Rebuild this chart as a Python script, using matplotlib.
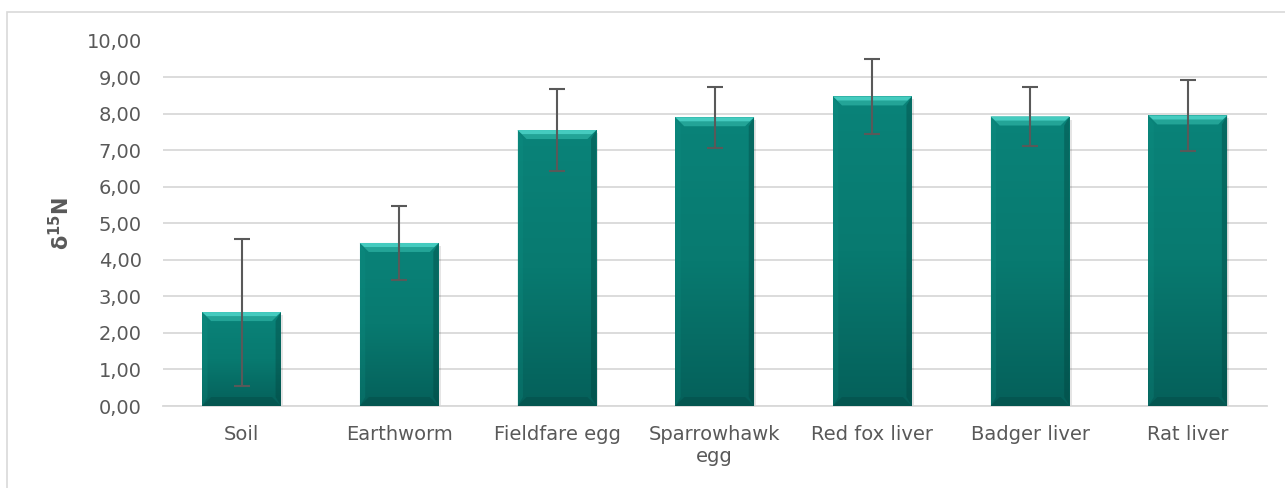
import matplotlib

matplotlib.use("Agg")

import matplotlib.pyplot as plt
import numpy as np
from matplotlib.patches import Rectangle, Polygon
from matplotlib.ticker import FuncFormatter

# данные (оценка по рисунку)
categories = ["Soil", "Earthworm", "Fieldfare egg", "Sparrowhawk\negg",
              "Red fox liver", "Badger liver", "Rat liver"]
means = [2.57, 4.46, 7.55, 7.90, 8.47, 7.92, 7.95]
errors = [2.01, 1.02, 1.12, 0.83, 1.02, 0.81, 0.96]
y_ticks = np.arange(0, 10.01, 1.0)

TEXT = "#595959"
GRID = "#d9d9d9"

plt.rcParams["font.family"] = ["DejaVu Sans"]

fig = plt.figure(figsize=(12.85, 4.88), dpi=100)
fig.patches.append(Rectangle((7 / 1285, -0.1), 1.2, (476 / 488) + 0.1,
                             transform=fig.transFigure, fill=False,
                             edgecolor=GRID, linewidth=1.2))
ax = fig.add_axes([162.7 / 1285, 82 / 488, 1104 / 1285, 365.5 / 488])

x = np.arange(len(categories))
width = 0.5
ax.set_xlim(-0.5, len(categories) - 0.5)
ax.set_ylim(0, 10)

# размер фаски в единицах данных (~9 px)
fig.canvas.draw()
bb = ax.get_window_extent()
px_x = (len(categories)) / bb.width
px_y = 10.0 / bb.height
bev_x = 9 * px_x
bev_y = 9 * px_y

grad = np.linspace(0, 1, 256).reshape(-1, 1)
cmap = matplotlib.colors.LinearSegmentedColormap.from_list(
    "teal", ["#05605a", "#087a70", "#0a8379"])

for xi, m in zip(x, means):
    x0, x1 = xi - width / 2, xi + width / 2
    # тень
    ax.add_patch(Rectangle((x0 + 2 * px_x, -3 * px_y), width, m,
                           facecolor="#000000", alpha=0.10, linewidth=0,
                           zorder=2))
    bar = Rectangle((x0, 0), width, m, facecolor="#087a70", linewidth=0,
                    zorder=3)
    ax.add_patch(bar)
    im = ax.imshow(grad, extent=[x0, x1, 0, m], origin="lower", cmap=cmap,
                   aspect="auto", zorder=3)
    im.set_clip_path(bar)
    # верхняя фаска
    ax.add_patch(Polygon([[x0, m], [x1, m], [x1 - bev_x, m - bev_y],
                          [x0 + bev_x, m - bev_y]],
                         facecolor="#23a497", linewidth=0, zorder=4))
    ax.add_patch(Polygon([[x0, m], [x1, m], [x1 - bev_x * 0.5, m - bev_y * 0.45],
                          [x0 + bev_x * 0.5, m - bev_y * 0.45]],
                         facecolor="#45cbbf", linewidth=0, zorder=4))
    # левая / правая / нижняя фаски
    ax.add_patch(Polygon([[x0, m], [x0 + bev_x * 0.6, m - bev_y],
                          [x0 + bev_x * 0.6, bev_y], [x0, 0]],
                         facecolor="#0f9285", alpha=0.25, linewidth=0, zorder=4))
    ax.add_patch(Polygon([[x1, m], [x1 - bev_x * 0.6, m - bev_y],
                          [x1 - bev_x * 0.6, bev_y], [x1, 0]],
                         facecolor="#023f3a", alpha=0.35, linewidth=0, zorder=4))
    ax.add_patch(Polygon([[x0, 0], [x1, 0], [x1 - bev_x, bev_y],
                          [x0 + bev_x, bev_y]],
                         facecolor="#023f3a", alpha=0.3, linewidth=0, zorder=4))

ax.errorbar(x, means, yerr=errors, fmt="none", ecolor=TEXT, elinewidth=1.5,
            capsize=6, capthick=1.5, zorder=6)

ax.set_yticks(y_ticks)
ax.yaxis.set_major_formatter(FuncFormatter(lambda v, p: f"{v:.2f}".replace(".", ",")))
ax.set_xticks(x)
ax.set_xticklabels(categories, multialignment="center")
ax.tick_params(axis="both", length=0, labelsize=14, colors=TEXT)
ax.tick_params(axis="x", pad=14)
ax.tick_params(axis="y", pad=15)

ax.grid(axis="y", color=GRID, linewidth=1.3, zorder=0)
ax.set_axisbelow(True)
for s in ["top", "right", "left"]:
    ax.spines[s].set_visible(False)
ax.spines["bottom"].set_color(GRID)
ax.spines["bottom"].set_linewidth(1.3)

ax.set_ylabel(r"δ$^{\mathbf{15}}$N", fontsize=15, fontweight="bold",
              color=TEXT, labelpad=10)

fig.savefig("out.png", dpi=100)
